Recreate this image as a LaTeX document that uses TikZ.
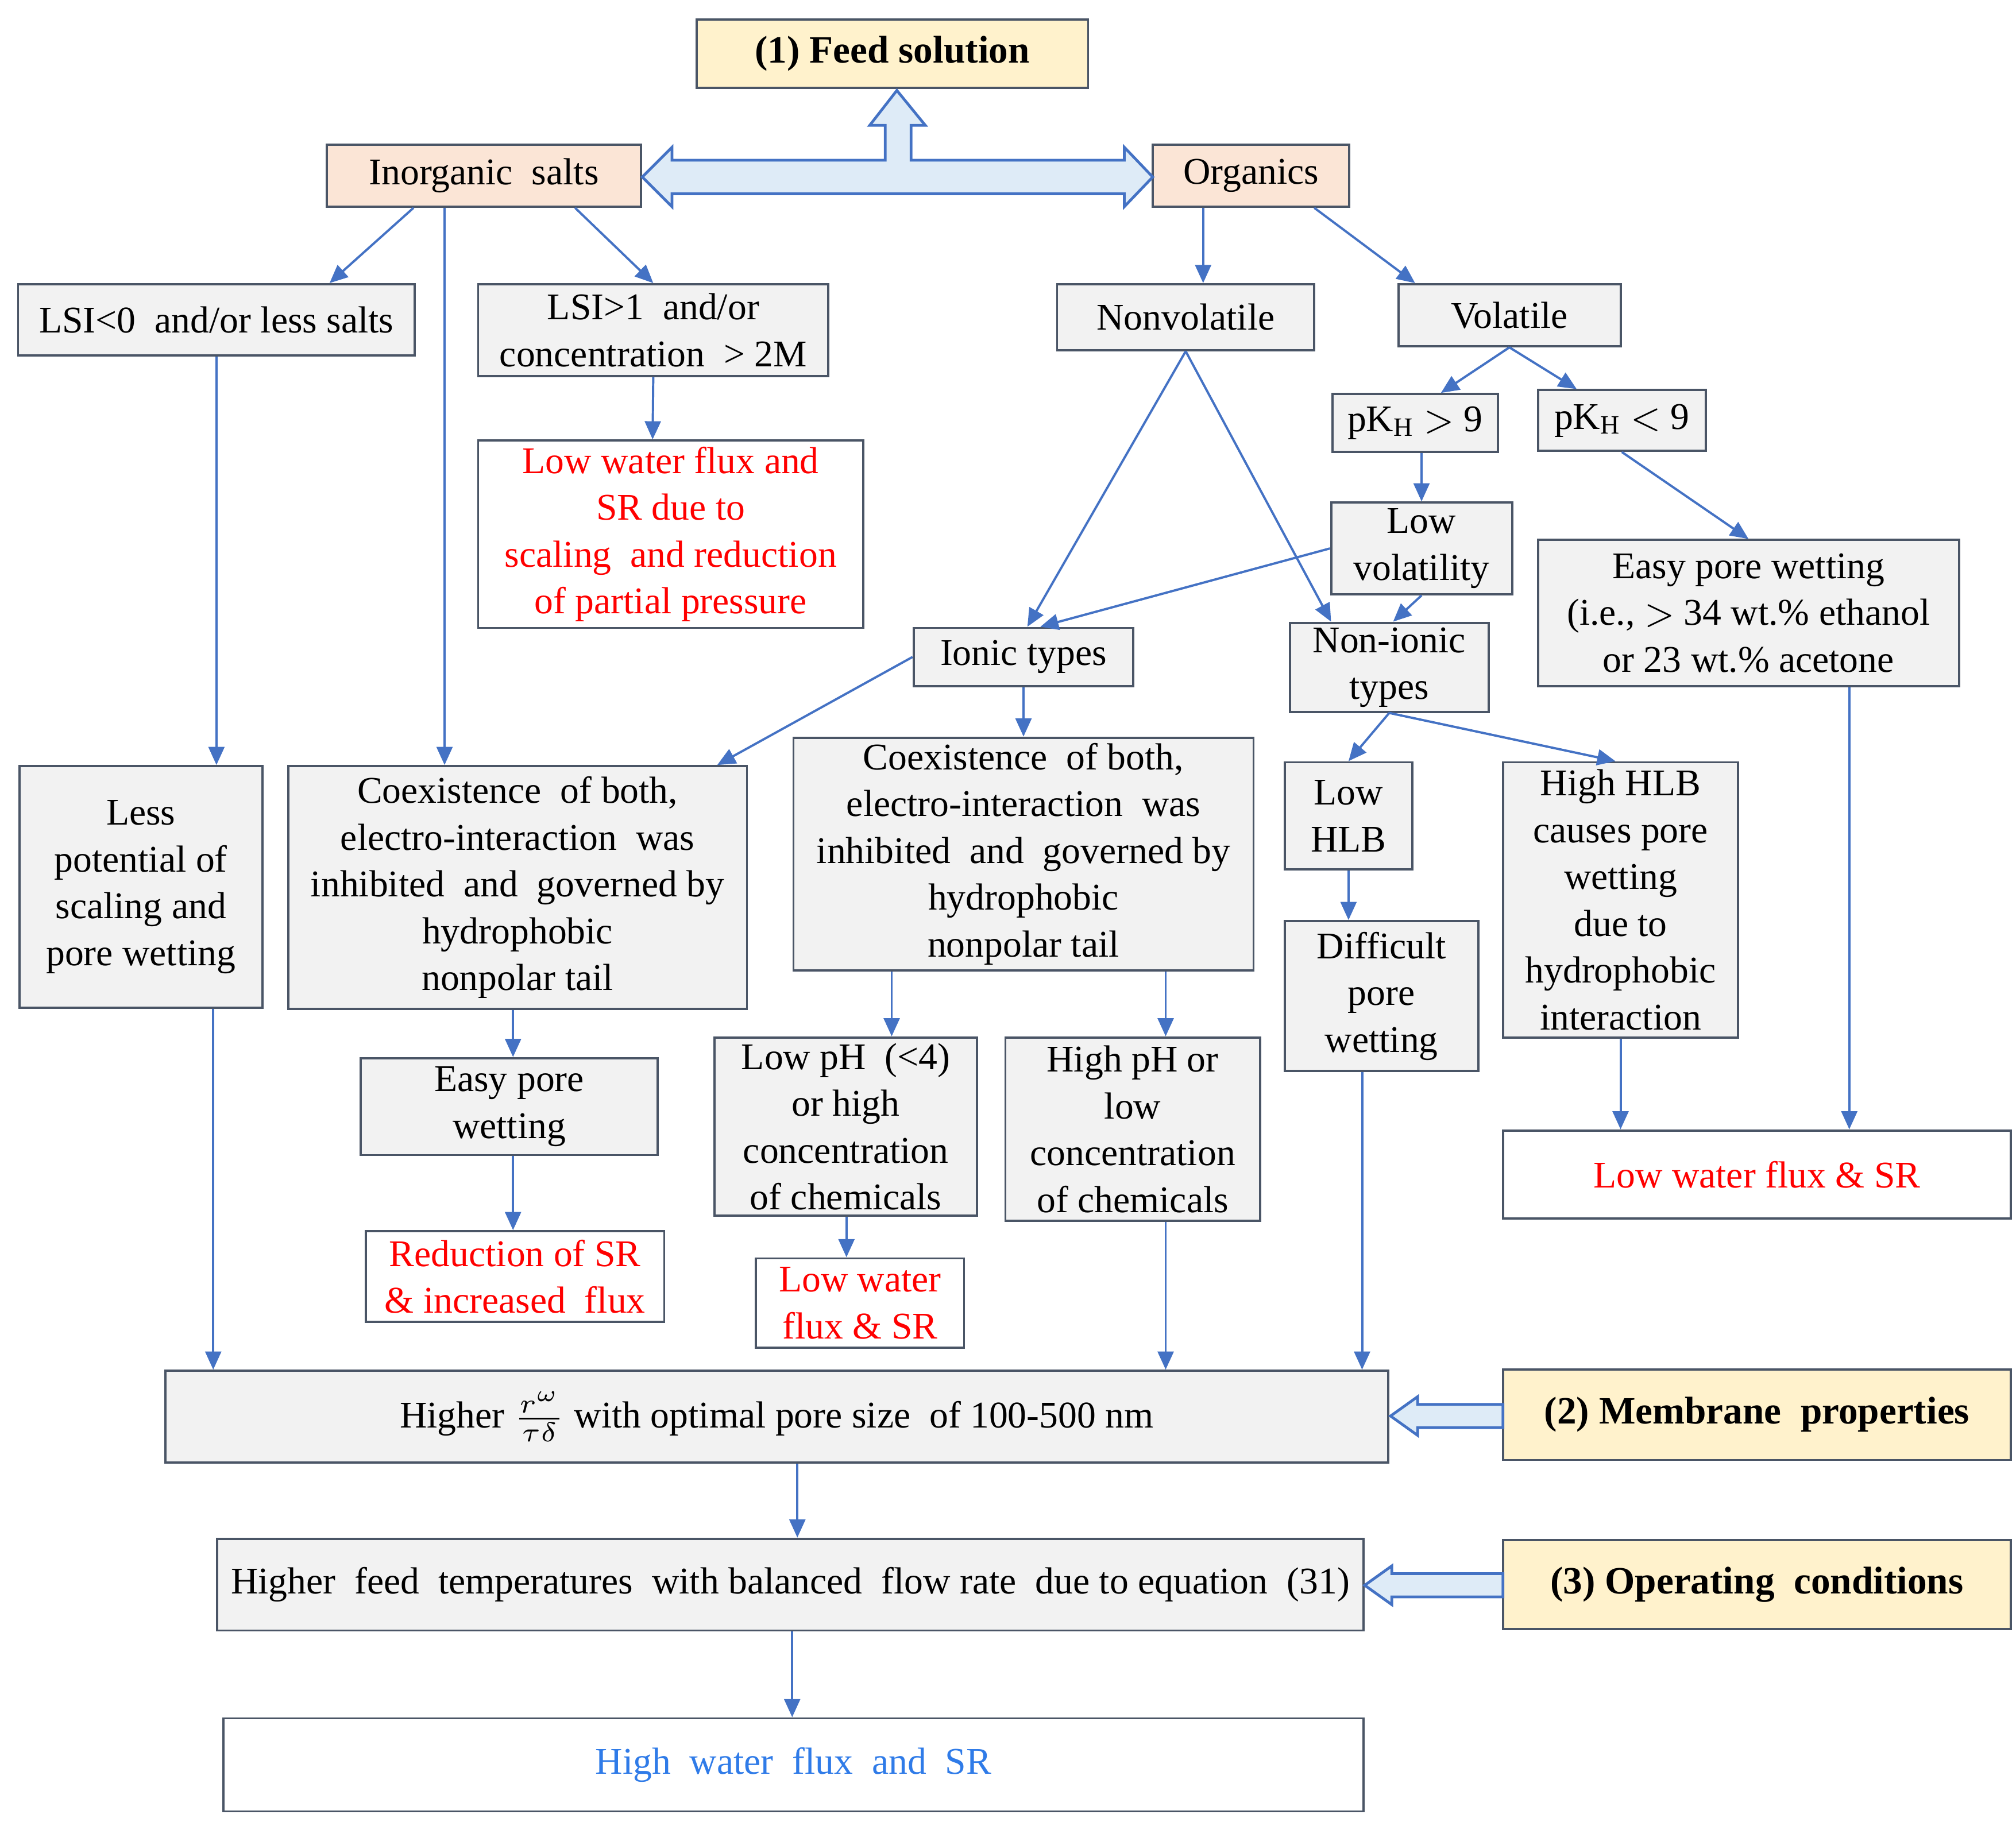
\documentclass[tikz,border=0pt]{standalone}
\usepackage{fontspec}
\setmainfont{Liberation Serif}
\usetikzlibrary{arrows.meta}
\definecolor{bordc}{HTML}{4A5566}
\definecolor{arrc}{HTML}{4472C4}
\definecolor{boxg}{HTML}{F2F2F2}
\definecolor{boxy}{HTML}{FFF2CC}
\definecolor{boxp}{HTML}{FBE5D6}
\definecolor{hollow}{HTML}{DEEBF7}
\definecolor{bluet}{HTML}{2F7BE8}
\def\px{0.01cm}
\begin{document}
\begin{tikzpicture}[x=0.01cm,y=-0.01cm,
  font=\fontsize{8.3}{10.3}\selectfont,
  bx/.style 2 args={draw=bordc,line width=0.5pt,fill=boxg,align=center,inner sep=1pt,
    minimum width=#1*\px,minimum height=#2*\px},
  yb/.style={fill=boxy,font=\fontsize{8.5}{10.3}\selectfont\bfseries},
  pb/.style={fill=boxp},
  wb/.style={fill=white},
  ar/.style={-{Triangle[length=4pt,width=3.5pt]},arrc,line width=0.5pt},
  hol/.style={draw=arrc,fill=hollow,line width=0.6pt}]
\useasboundingbox (0,0) rectangle (1560,1410);

% top level
\node[bx={303}{53},yb] (feed) at (690.5,41.5) {(1) Feed solution};
\node[bx={243}{48},pb] (inorg) at (374.5,136) {Inorganic\ \ salts};
\node[bx={152}{48},pb] (org) at (968,136) {Organics};
\draw[hol] (497,137) -- (520,114) -- (520,124) -- (685,124) -- (685,97) -- (673,97)
  -- (694,70) -- (716,97) -- (705,97) -- (705,124) -- (870,124) -- (870,114)
  -- (892,137) -- (870,160) -- (870,150) -- (520,150) -- (520,160) -- cycle;

% inorganic branch
\node[bx={307}{55}] (lsi0) at (167.5,247.5) {LSI<0\ \ and/or less salts};
\node[bx={271}{71}] (lsi1) at (505.5,255.5) {LSI>1\ \ and/or\\concentration\ \ > 2M};
\node[bx={298}{145},wb,text=red] (lowflux1) at (519,413.5) {Low water flux and\\SR due to\\scaling\ \ and reduction\\of partial pressure};
\node[bx={188}{187}] (less) at (109,686.5) {Less\\potential of\\scaling and\\pore wetting};
\node[bx={355}{188}] (coex1) at (400.5,687) {Coexistence\ \ of both,\\electro-interaction\ \ was\\inhibited\ \ and\ \ governed by\\hydrophobic\\nonpolar tail};
\node[bx={230}{75}] (easy2) at (394,856.5) {Easy pore\\wetting};
\node[bx={231}{70},wb,text=red] (red) at (398.5,988) {Reduction of SR\\\& increased\ \ flux};

% organic branch
\node[bx={199}{51}] (nonvol) at (917.5,245.5) {Nonvolatile};
\node[bx={172}{48}] (vol) at (1168,244) {Volatile};
\node[bx={128}{45}] (pk9) at (1095,327.5) {pK$_\mathrm{H}$ $>$ 9};
\node[bx={130}{47}] (pkl9) at (1255,325.5) {pK$_\mathrm{H}$ $<$ 9};
\node[bx={140}{71}] (lowvol) at (1100,424.5) {Low\\volatility};
\node[bx={326}{113}] (easypw) at (1353,474.5) {Easy pore wetting\\(i.e., $>$ 34 wt.\% ethanol\\or 23 wt.\% acetone};
\node[bx={170}{45}] (ionic) at (792,508.5) {Ionic types};
\node[bx={154}{65}] (nonionic) at (1075,516.5) {Non-ionic\\types};
\node[bx={356}{180}] (coex2) at (792,661) {Coexistence\ \ of both,\\electro-interaction\ \ was\\inhibited\ \ and\ \ governed by\\hydrophobic\\nonpolar tail};
\node[bx={99}{83}] (lowhlb) at (1043.5,631.5) {Low\\HLB};
\node[bx={182}{213}] (highhlb) at (1254,696.5) {High HLB\\causes pore\\wetting\\due to\\hydrophobic\\interaction};
\node[bx={150}{116}] (diff) at (1069,771) {Difficult\\pore\\wetting};
\node[bx={203}{138}] (lowph) at (654.5,872) {Low pH\ \ (<4)\\or high\\concentration\\of chemicals};
\node[bx={197}{142}] (highph) at (876.5,874) {High pH or\\low\\concentration\\of chemicals};
\node[bx={393}{68},wb,text=red] (lowflux2) at (1359.5,909) {Low water flux \& SR};
\node[bx={161}{69},wb,text=red] (lowwf) at (665.5,1008.5) {Low water\\flux \& SR};

% bottom chain
\node[bx={946}{71}] (higher) at (601,1096.5) {Higher $\frac{r^{\omega}}{\tau\delta}$ with optimal pore size\ \ of 100-500 nm};
\node[bx={393}{70},yb] (mem) at (1359.5,1095) {(2) Membrane\ \ properties};
\node[bx={887}{71}] (feedT) at (611.5,1226.5) {Higher\ \ feed\ \ temperatures\ \ with balanced\ \ flow rate\ \ due to equation\ \ (31)};
\node[bx={393}{69},yb] (op) at (1359.5,1226.5) {(3) Operating\ \ conditions};
\node[bx={882}{72},wb,text=bluet] (high) at (614,1366) {High\ \ water\ \ flux\ \ and\ \ SR};
\draw[hol] (1163,1087) -- (1097,1087) -- (1097,1081) -- (1076,1096) -- (1097,1111) -- (1097,1105) -- (1163,1105) -- cycle;
\draw[hol] (1163,1218) -- (1077,1218) -- (1077,1212) -- (1056,1227) -- (1077,1242) -- (1077,1236) -- (1163,1236) -- cycle;

% connectors
\draw[ar] ([xshift=-54.5*\px]inorg.south) -- ([xshift=87.5*\px]lsi0.north);
\draw[ar] ([xshift=70.5*\px]inorg.south) -- (lsi1.north);
\draw[ar] ([xshift=-30.5*\px]inorg.south) -- ([xshift=-56.5*\px]coex1.north);
\draw[ar] (lsi1.south) -- ([xshift=-14*\px]lowflux1.north);
\draw[ar] (lsi0.south) -- ([xshift=58.5*\px]less.north);
\draw[ar] ([xshift=-37*\px]org.south) -- ([xshift=13.5*\px]nonvol.north);
\draw[ar] ([xshift=49*\px]org.south) -- ([xshift=-73*\px]vol.north);
\draw[ar] (vol.south) -- ([xshift=20*\px]pk9.north);
\draw[ar] (vol.south) -- ([xshift=-35*\px]pkl9.north);
\draw[ar] ([xshift=5*\px]pk9.south) -- (lowvol.north);
\draw[ar] (pkl9.south) -- (easypw.north);
\draw[ar] (nonvol.south) -- ([xshift=3*\px]ionic.north);
\draw[ar] (nonvol.south) -- ([xshift=-45*\px]nonionic.north);
\draw[ar] (lowvol.west) -- ([xshift=13*\px]ionic.north);
\draw[ar] (lowvol.south) -- ([xshift=3*\px]nonionic.north);
\draw[ar] (ionic.west) -- ([xshift=154.5*\px]coex1.north);
\draw[ar] (ionic.south) -- (coex2.north);
\draw[ar] (nonionic.south) -- (lowhlb.north);
\draw[ar] (nonionic.south) -- ([xshift=-4*\px]highhlb.north);
\draw[ar] ([xshift=-3.5*\px]coex1.south) -- ([xshift=3*\px]easy2.north);
\draw[ar] ([xshift=3*\px]easy2.south) -- ([xshift=-1.5*\px]red.north);
\draw[ar] ([xshift=-102*\px]coex2.south) -- ([xshift=35.5*\px]lowph.north);
\draw[ar] ([xshift=110*\px]coex2.south) -- ([xshift=25.5*\px]highph.north);
\draw[ar] ([xshift=0.5*\px]lowph.south) -- ([xshift=-10.5*\px]lowwf.north);
\draw[ar] ([xshift=25.5*\px]highph.south) -- ([xshift=301*\px]higher.north);
\draw[ar] (lowhlb.south) -- ([xshift=-25.5*\px]diff.north);
\draw[ar] ([xshift=-15*\px]diff.south) -- ([xshift=453*\px]higher.north);
\draw[ar] ([xshift=56*\px]less.south) -- ([xshift=-436*\px]higher.north);
\draw[ar] (highhlb.south) -- ([xshift=-105.5*\px]lowflux2.north);
\draw[ar] ([xshift=78*\px]easypw.south) -- ([xshift=71.5*\px]lowflux2.north);
\draw[ar] ([xshift=16*\px]higher.south) -- ([xshift=5.5*\px]feedT.north);
\draw[ar] ([xshift=1.5*\px]feedT.south) -- ([xshift=-1*\px]high.north);
\end{tikzpicture}
\end{document}
